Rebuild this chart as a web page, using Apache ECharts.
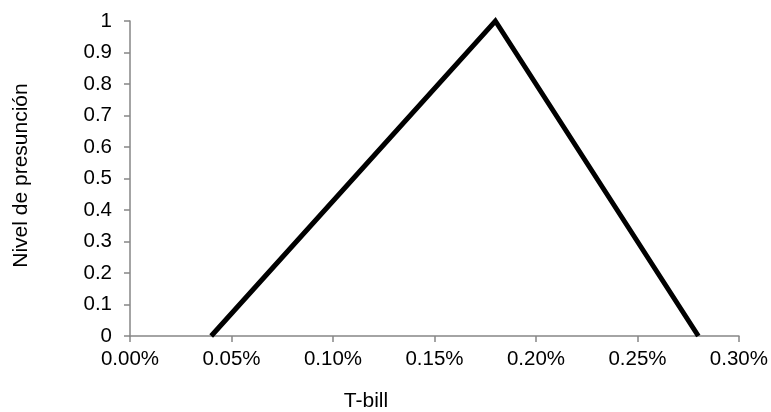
<!DOCTYPE html>
<html>
<head>
<meta charset="utf-8">
<script src="https://cdn.jsdelivr.net/npm/echarts@6/dist/echarts.min.js"></script>
<style>html,body{margin:0;padding:0;background:#fff}#c{width:771px;height:412px}</style>
</head>
<body>
<div id="c"></div>
<script>
// Data (x in percent units)
var tbill = [0.04, 0.18, 0.28];
var presuncion = [0, 1, 0];
var xAxisTitle = 'T-bill';
var yAxisTitle = 'Nivel de presunción';

var chart = echarts.init(document.getElementById('c'), null, {renderer: 'canvas'});
var FONT = 'Liberation Sans, Arial, sans-serif';
var axisGray = '#868686';
chart.setOption({
  animation: false,
  grid: {left: 130, right: 29, top: 21, bottom: 76},
  xAxis: {
    type: 'value', min: 0, max: 0.3, interval: 0.05,
    axisLine: {show: true, lineStyle: {color: axisGray, width: 1.5}},
    axisTick: {show: true, length: 6, lineStyle: {color: axisGray, width: 1.5}},
    splitLine: {show: false},
    axisLabel: {color: '#000', fontFamily: FONT, fontSize: 20.5, margin: 13,
      formatter: function (v) { return v.toFixed(2) + '%'; }}
  },
  yAxis: {
    type: 'value', min: 0, max: 1, interval: 0.1,
    axisLine: {show: true, lineStyle: {color: axisGray, width: 1.5}},
    axisTick: {show: true, length: 6, lineStyle: {color: axisGray, width: 1.5}},
    splitLine: {show: false},
    axisLabel: {color: '#000', fontFamily: FONT, fontSize: 20.5, margin: 18,
      formatter: function (v) { return String(parseFloat(v.toFixed(1))); }}
  },
  graphic: [{
    type: 'text', x: 366, y: 401,
    style: {text: xAxisTitle, fill: '#000', font: '21px ' + FONT, align: 'center', verticalAlign: 'middle'}
  }, {
    type: 'text', x: 21, y: 175.5, rotation: Math.PI / 2,
    style: {text: yAxisTitle, fill: '#000', font: '21px ' + FONT, align: 'center', verticalAlign: 'middle'}
  }],
  series: [{
    type: 'line',
    data: tbill.map(function (x, i) { return [x, presuncion[i]]; }),
    showSymbol: false, symbol: 'none',
    lineStyle: {color: '#000', width: 5, join: 'miter'},
    clip: false
  }]
});
</script>
</body>
</html>
